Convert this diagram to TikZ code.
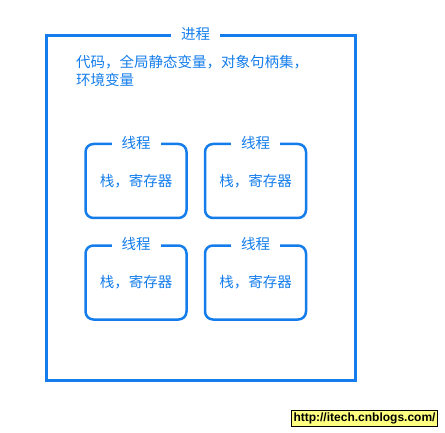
\documentclass[tikz,border=0pt]{standalone}
\usepackage{fontspec}
\usepackage{tikz}
\usetikzlibrary{positioning}
\newfontfamily\cjk{Noto Sans CJK SC}
\newfontfamily\urlfont{Liberation Sans}
\definecolor{procblue}{RGB}{20,125,235}
\definecolor{noteyellow}{RGB}{255,255,128}

\begin{document}
\begin{tikzpicture}[x=1pt, y=1pt, node distance=25pt and 16pt,
    every node/.style={font=\cjk\fontsize{14.5}{18}\selectfont, text=procblue},
    procbox/.style={rectangle, draw=procblue, line width=3pt, minimum width=309pt, minimum height=344pt},
    thread/.style={rectangle, rounded corners=8pt, draw=procblue, line width=2.5pt, minimum width=101pt, minimum height=74pt, inner sep=0pt},
    title/.style={fill=white, inner xsep=10pt, inner ysep=1pt}]
    \useasboundingbox (0,0) rectangle (445,432);
    \node (proc) [procbox] at (200.5,224) {};
    \node (procTitle) [title, xshift=-5pt] at (proc.north) {进程};
    \node (procText) [anchor=north west, align=left, inner sep=0pt] at (76,377) {代码，全局静态变量，对象句柄集，\\环境变量};

    \node (thr1) [thread] at (136,251) {栈，寄存器};
    \node (thr2) [thread, right=of thr1] {栈，寄存器};
    \node (thr3) [thread, below=of thr1] {栈，寄存器};
    \node (thr4) [thread, right=of thr3] {栈，寄存器};
    \node (thr1Title) [title] at (thr1.north) {线程};
    \node (thr2Title) [title] at (thr2.north) {线程};
    \node (thr3Title) [title] at (thr3.north) {线程};
    \node (thr4Title) [title] at (thr4.north) {线程};

    \node (blog) [draw=black, fill=noteyellow, text=black, font=\urlfont\bfseries\fontsize{12}{13}\selectfont, inner xsep=2pt, inner ysep=1pt, minimum height=16pt] at (364.5,14) {http://itech.cnblogs.com/};
\end{tikzpicture}
\end{document}
